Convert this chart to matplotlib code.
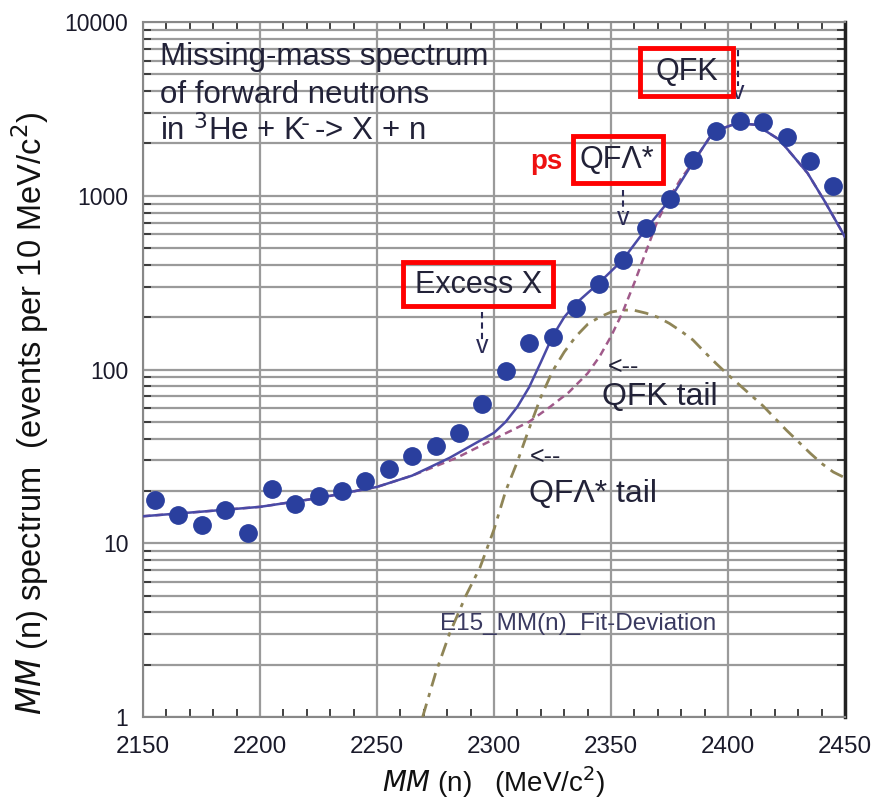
import matplotlib
matplotlib.use("Agg")
import matplotlib.pyplot as plt
from matplotlib.patches import Rectangle
from matplotlib.ticker import FixedLocator, NullFormatter, LogLocator
import numpy as np

# ---- data ----
mm_x = [2155, 2165, 2175, 2185, 2195, 2205, 2215, 2225, 2235, 2245,
        2255, 2265, 2275, 2285, 2295, 2305, 2315, 2325, 2335, 2345,
        2355, 2365, 2375, 2385, 2395, 2405, 2415, 2425, 2435, 2445]
counts = [17.7, 14.5, 12.7, 15.5, 11.5, 20.5, 16.8, 18.7, 20.0, 22.8,
          26.8, 31.8, 36.3, 43.0, 63.0, 98.0, 142.0, 154.0, 226.0, 310.0,
          427.0, 652.0, 957.0, 1607.0, 2360.0, 2692.0, 2655.0, 2178.0, 1586.0, 1138.0]

total_x = [2150, 2175, 2200, 2225, 2250, 2265, 2281, 2290, 2300, 2305, 2310,
           2315, 2320, 2325, 2330, 2335, 2345, 2355, 2365, 2375, 2385, 2392,
           2398, 2404, 2412, 2422, 2434, 2441, 2450]
total_y = [14.3, 15.2, 16.2, 18.2, 21.1, 24.5, 31.0, 36.3, 43.2, 50.0, 61.0,
           79.0, 110.0, 155.0, 200.0, 240.0, 316.0, 427.0, 646.0, 944.0, 1550.0, 2150.0,
           2450.0, 2620.0, 2560.0, 2100.0, 1350.0, 945.0, 580.0]

qfk_x = [2150, 2175, 2200, 2225, 2250, 2265, 2284, 2302, 2315, 2324, 2332,
         2340, 2345, 2350, 2355, 2360, 2365, 2370, 2375, 2380, 2385, 2392,
         2398, 2404, 2412, 2422, 2434, 2441, 2450]
qfk_y = [14.3, 15.2, 16.2, 18.2, 21.1, 24.5, 31.0, 41.0, 50.0, 61.0, 74.0,
         95.0, 118.0, 155.0, 214.0, 316.0, 479.0, 724.0, 977.0, 1260.0, 1550.0, 2150.0,
         2450.0, 2620.0, 2560.0, 2100.0, 1350.0, 945.0, 580.0]

qfl_x = [2269.5, 2275, 2281, 2288, 2294, 2300, 2305, 2310, 2315, 2320,
         2325, 2330, 2335, 2340, 2345, 2350, 2355, 2360, 2365, 2370,
         2375, 2380, 2385, 2390, 2395, 2400, 2405, 2410, 2415, 2420,
         2425, 2430, 2435, 2440, 2445, 2450]
qfl_y = [1.0, 1.78, 3.02, 5.0, 7.24, 12.0, 20.0, 29.5, 45.7, 69.2,
         97.7, 126.0, 155.0, 182.0, 200.0, 214.0, 220.0, 219.0, 211.0, 200.0,
         184.0, 166.0, 148.0, 126.0, 108.0, 93.3, 81.3, 70.8, 61.7, 52.5,
         44.7, 38.5, 33.1, 28.8, 25.7, 23.8]

xticks = [2150, 2200, 2250, 2300, 2350, 2400, 2450]
yticks = [1, 10, 100, 1000, 10000]
ytick_labels = ["1", "10", "100", "1000", "10000"]

# ---- figure ----
W, H = 875, 805
plt.rcParams['font.family'] = ['Liberation Sans', 'DejaVu Sans']
fig = plt.figure(figsize=(W / 100, H / 100), dpi=100)
ax = fig.add_axes([143 / W, 1 - 717 / H, (845 - 143) / W, (717 - 22) / H])

def P(x, y):
    return (x / W, 1 - y / H)

ax.set_yscale('log')
ax.set_xlim(2150, 2450)
ax.set_ylim(1, 10000)

grid_c = '#9a9a9a'
ax.xaxis.set_major_locator(FixedLocator(xticks))
ax.xaxis.set_minor_locator(FixedLocator(list(range(2150, 2451, 10))))
ax.yaxis.set_major_locator(FixedLocator(yticks))
ax.yaxis.set_minor_locator(LogLocator(base=10, subs=np.arange(2, 10)))
ax.yaxis.set_minor_formatter(NullFormatter())
ax.set_yticklabels(ytick_labels)
ax.set_xticklabels([str(t) for t in xticks])

ax.grid(True, which='major', axis='x', color=grid_c, lw=1.6)
ax.grid(True, which='both', axis='y', color=grid_c, lw=1.6)
ax.set_axisbelow(True)

ax.tick_params(which='major', direction='in', length=0, colors='#222')
ax.tick_params(axis='x', which='major', labelsize=17.5, pad=14)
ax.tick_params(axis='y', which='major', labelsize=16.5, pad=10.5)
ax.tick_params(axis='x', which='minor', direction='in', length=6, width=1.3,
               top=True, bottom=True, color='#333')
ax.tick_params(axis='y', which='minor', direction='in', length=6, width=1.3,
               left=True, right=True, color='#333')
for lbl in ax.get_xticklabels() + ax.get_yticklabels():
    lbl.set_color('#1a1a2a')

for s in ['left', 'bottom', 'top']:
    ax.spines[s].set_color('#888')
    ax.spines[s].set_linewidth(1.5)
ax.spines['right'].set_color('#222')
ax.spines['right'].set_linewidth(2.5)

# ---- curves ----
ax.plot(qfl_x, qfl_y, color='#8f8557', lw=2.0, ls=(0, (5, 2.5, 1.5, 2.5)), zorder=3)
ax.plot(qfk_x, qfk_y, color='#a05a8a', lw=1.8, ls=(0, (3, 2)), zorder=3)
ax.plot(total_x, total_y, color='#4a4aa6', lw=1.8, zorder=4)
ax.plot(mm_x, counts, 'o', color='#2a3f9e', ms=12.5, mec='#2a3f9e', zorder=5)

# ---- labels ----
ax.set_xlabel(r'$MM$ (n)   (MeV/c$^2$)', fontsize=20, labelpad=4, color='#111')
fig.text(30 / W, 1 - 413 / H,
         r'$MM$ (n) spectrum  (events per 10 MeV/c$^2$)',
         rotation=90, ha='center', va='center', fontsize=23.5, color='#111')

txtc = '#222238'
fig.text(*P(160, 57), 'Missing-mass spectrum', fontsize=22.5, color=txtc, va='center')
fig.text(*P(160, 95), 'of forward neutrons', fontsize=22.5, color=txtc, va='center')
fig.text(*P(160, 131), r'in $^3$He + K$^{\bar{}}$ -> X + n', fontsize=22.5, color=txtc, va='center')

def box(x0, y0, x1, y1):
    fig.patches.append(Rectangle(P(x0, y1), (x1 - x0) / W, (y1 - y0) / H,
                                 transform=fig.transFigure, fill=False,
                                 ec='#ff0000', lw=3.5, zorder=10))

def down_arrow(x, y0, y1):
    fig.add_artist(plt.Line2D([x / W, x / W], [1 - y0 / H, 1 - y1 / H],
                              transform=fig.transFigure, color='#2a2a55',
                              lw=1.5, ls=(0, (3, 2))))
    fig.text(*P(x, y1 + 6), 'v', fontsize=18, ha='center', va='center', color='#2a2a55')

# QFK
box(640, 48, 733, 96)
fig.text(*P(687, 72), 'QFK', fontsize=22, ha='center', va='center', color=txtc)
down_arrow(738, 50, 86)

# ps QFΛ*
fig.text(*P(546, 162), 'ps', fontsize=20, ha='center', va='center',
         color='#ee1111', fontweight='bold')
box(573, 136, 663, 183)
fig.text(*P(617, 160), 'QFΛ*', fontsize=22, ha='center', va='center', color=txtc)
down_arrow(623, 190, 212)

# Excess X
box(403, 262, 553, 306)
fig.text(*P(479, 285), 'Excess X', fontsize=22, ha='center', va='center', color=txtc)
down_arrow(482, 312, 340)

# tails
fig.text(*P(608, 367), '<--', fontsize=18, ha='left', va='center', color=txtc)
fig.text(*P(602, 397), 'QFK tail', fontsize=23, ha='left', va='center', color=txtc)
fig.text(*P(530, 457), '<--', fontsize=18, ha='left', va='center', color=txtc)
fig.text(*P(529, 494), 'QFΛ* tail', fontsize=23, ha='left', va='center', color=txtc)

fig.text(*P(440, 624), 'E15_MM(n)_Fit-Deviation', fontsize=17.5, ha='left',
         va='center', color='#3a3a60')

fig.savefig('out.png', dpi=100)
